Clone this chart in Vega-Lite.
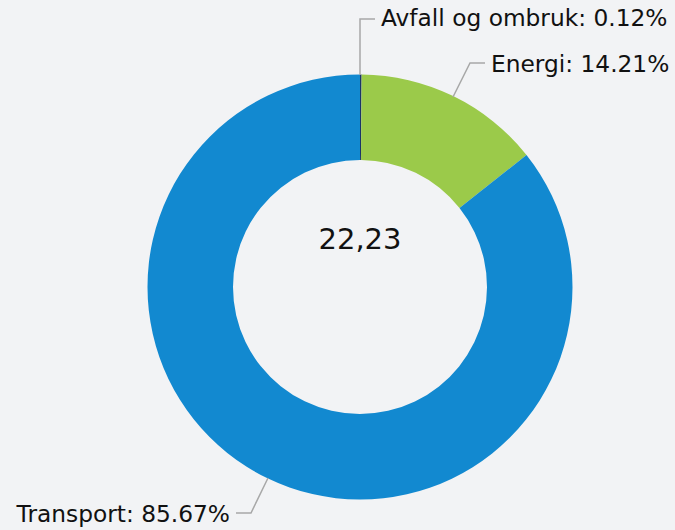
{
  "$schema": "https://vega.github.io/schema/vega-lite/v6.json",
  "width": 630,
  "height": 486,
  "autosize": {"type": "none"},
  "padding": {"left": 45, "top": 44, "right": 0, "bottom": 0},
  "background": "#f2f3f5",
  "config": {"view": {"stroke": null}, "font": "DejaVu Sans"},
  "datasets": {
    "andeler": [
      {"kategori": "Avfall og ombruk", "andel": 0.12},
      {"kategori": "Energi", "andel": 14.21},
      {"kategori": "Transport", "andel": 85.67}
    ],
    "linjer": [
      {"kategori": "Avfall og ombruk", "steg": 1, "x": 0, "y": 212},
      {"kategori": "Avfall og ombruk", "steg": 2, "x": 0, "y": 268},
      {"kategori": "Avfall og ombruk", "steg": 3, "x": 15, "y": 268},
      {"kategori": "Energi", "steg": 1, "x": 93, "y": 190},
      {"kategori": "Energi", "steg": 2, "x": 110, "y": 224},
      {"kategori": "Energi", "steg": 3, "x": 125, "y": 224},
      {"kategori": "Transport", "steg": 1, "x": -92, "y": -191},
      {"kategori": "Transport", "steg": 2, "x": -109, "y": -226},
      {"kategori": "Transport", "steg": 3, "x": -124, "y": -226}
    ],
    "etiketter": [
      {"kategori": "Avfall og ombruk", "tekst": "Avfall og ombruk: 0.12%", "side": "h", "x": 21, "y": 268},
      {"kategori": "Energi", "tekst": "Energi: 14.21%", "side": "h", "x": 131, "y": 222},
      {"kategori": "Transport", "tekst": "Transport: 85.67%", "side": "v", "x": -130, "y": -228}
    ],
    "senter": [{"tekst": "22,23", "x": 0, "y": 47}]
  },
  "layer": [
    {
      "data": {"name": "andeler"},
      "mark": {"type": "arc", "innerRadius": 127, "outerRadius": 212.5},
      "encoding": {
        "theta": {"field": "andel", "type": "quantitative", "stack": true},
        "color": {
          "field": "kategori",
          "type": "nominal",
          "scale": {"domain": ["Avfall og ombruk", "Energi", "Transport"], "range": ["#1b3466", "#9bca4a", "#1289d0"]},
          "legend": null
        }
      }
    },
    {
      "data": {"name": "linjer"},
      "mark": {"type": "line", "color": "#a8a8a8", "strokeWidth": 1.5},
      "encoding": {
        "x": {"field": "x", "type": "quantitative", "scale": {"domain": [-315, 315], "nice": false, "zero": false}, "axis": null},
        "y": {"field": "y", "type": "quantitative", "scale": {"domain": [-243, 243], "nice": false, "zero": false}, "axis": null},
        "detail": {"field": "kategori"},
        "order": {"field": "steg"}
      }
    },
    {
      "data": {"name": "etiketter"},
      "transform": [{"filter": "datum.side == 'h'"}],
      "mark": {"type": "text", "align": "left", "baseline": "middle", "fontSize": 23.3, "color": "#111111"},
      "encoding": {
        "x": {"field": "x", "type": "quantitative"},
        "y": {"field": "y", "type": "quantitative"},
        "text": {"field": "tekst"}
      }
    },
    {
      "data": {"name": "etiketter"},
      "transform": [{"filter": "datum.side == 'v'"}],
      "mark": {"type": "text", "align": "right", "baseline": "middle", "fontSize": 23.3, "color": "#111111"},
      "encoding": {
        "x": {"field": "x", "type": "quantitative"},
        "y": {"field": "y", "type": "quantitative"},
        "text": {"field": "tekst"}
      }
    },
    {
      "data": {"name": "senter"},
      "mark": {"type": "text", "align": "center", "baseline": "middle", "fontSize": 29, "color": "#111111"},
      "encoding": {
        "x": {"field": "x", "type": "quantitative"},
        "y": {"field": "y", "type": "quantitative"},
        "text": {"field": "tekst"}
      }
    }
  ]
}
